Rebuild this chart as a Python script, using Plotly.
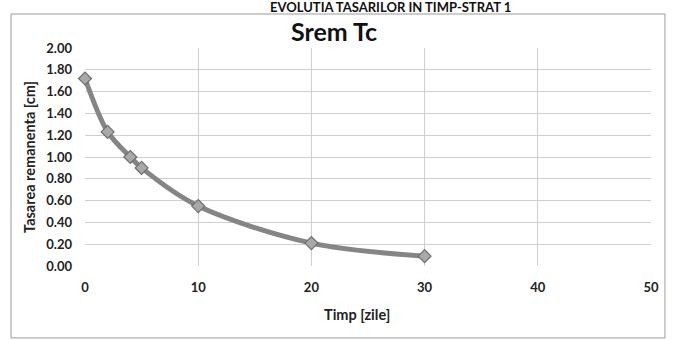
import plotly.graph_objects as go

# Remaining settlement over time, layer 1
timp = [0, 2, 4, 5, 10, 20, 30]
tasare = [1.72, 1.23, 1.00, 0.90, 0.55, 0.21, 0.09]

x_ticks = [0, 10, 20, 30, 40, 50]
y_ticks = [0.0, 0.2, 0.4, 0.6, 0.8, 1.0, 1.2, 1.4, 1.6, 1.8, 2.0]

FONT = "Lato"
TXT = "#222222"

fig = go.Figure()
fig.add_trace(go.Scatter(
    x=timp, y=tasare,
    mode="lines+markers",
    line=dict(color="#858585", width=5, shape="spline", smoothing=0.9),
    marker=dict(symbol="diamond", size=10, color="#a8a8a8",
                line=dict(color="#6e6e6e", width=1.2)),
    showlegend=False,
    cliponaxis=False,
))

fig.update_layout(
    width=675, height=340,
    margin=dict(l=85, r=24, t=48, b=74),
    paper_bgcolor="white",
    plot_bgcolor="white",
    font=dict(family=FONT, color=TXT),
    xaxis=dict(
        range=[0, 50], tickvals=x_ticks,
        ticktext=[str(v) for v in x_ticks],
        showgrid=True, gridcolor="#cfcfcf", gridwidth=1,
        zeroline=False, showline=False,
        ticks="", ticklabelstandoff=12,
        tickfont=dict(family=FONT, size=13, color=TXT, weight="bold"),
    ),
    yaxis=dict(
        range=[0, 2.0], tickvals=y_ticks,
        ticktext=[f"{v:.2f}" for v in y_ticks],
        showgrid=True, gridcolor="#cfcfcf", gridwidth=1,
        zeroline=False, showline=False,
        ticks="", ticklabelstandoff=12,
        tickfont=dict(family=FONT, size=13, color=TXT, weight="bold"),
    ),
    annotations=[
        dict(text="EVOLUTIA TASARILOR IN TIMP-STRAT 1",
             xref="paper", yref="paper", x=0.5406, y=1.188,
             xanchor="center", yanchor="middle", showarrow=False,
             font=dict(family=FONT, size=13, color="#111111", weight="bold")),
        dict(text="Srem Tc",
             xref="paper", yref="paper", x=0.440, y=1.078,
             xanchor="center", yanchor="middle", showarrow=False,
             font=dict(family=FONT, size=25, color="#111111", weight="bold")),
        dict(text="Tasarea remanenta [cm]",
             xref="paper", yref="paper", x=-0.099, y=0.50,
             xanchor="center", yanchor="middle", textangle=-90,
             showarrow=False,
             font=dict(family=FONT, size=14.5, color=TXT, weight="bold")),
        dict(text="Timp [zile]",
             xref="paper", yref="paper", x=0.480, y=-0.222,
             xanchor="center", yanchor="middle", showarrow=False,
             font=dict(family=FONT, size=14.5, color=TXT, weight="bold")),
    ],
    shapes=[
        # chart-area frame
        dict(type="rect", xref="paper", yref="paper",
             x0=-0.1307, x1=1.0247, y0=-0.33, y1=1.156,
             line=dict(color="#9a9a9a", width=1), layer="below"),
    ],
)

fig.write_html("out.html")
